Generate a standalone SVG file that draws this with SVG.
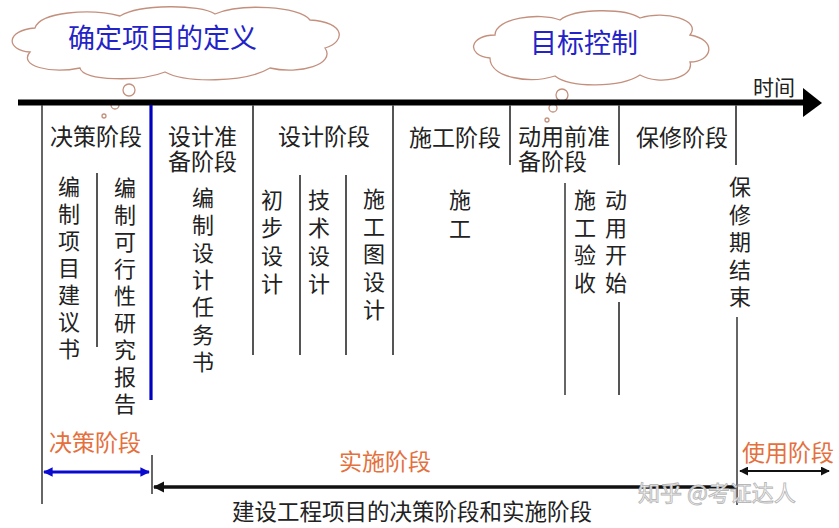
<svg xmlns="http://www.w3.org/2000/svg" width="839" height="528" viewBox="0 0 839 528">
<defs>
<style>
text{font-family:"Noto Sans CJK SC","Microsoft YaHei",sans-serif;fill:#222}
.h{font-size:23px}
.v{font-size:22px;text-anchor:middle}
.cl{font-size:27px;fill:#2323C8}
.or{font-size:23px;fill:#E4703E}
.div{stroke:#555;stroke-width:2;fill:none}
.thin{stroke:#333;stroke-width:1.5;fill:none}
.cloud{fill:#fff;stroke:#C4907E;stroke-width:1.3}
</style>
<marker id="ab" viewBox="0 0 10 10" refX="9" refY="5" markerWidth="3.2" markerHeight="3.6" orient="auto-start-reverse" markerUnits="strokeWidth"><path d="M0,0 L10,5 L0,10 Z" fill="#0A0AD0"/></marker>
<marker id="ak" viewBox="0 0 10 10" refX="9" refY="5" markerWidth="3.2" markerHeight="3.4" orient="auto-start-reverse" markerUnits="strokeWidth"><path d="M0,0 L10,5 L0,10 Z" fill="#111"/></marker>
<marker id="as" viewBox="0 0 10 10" refX="9" refY="5" markerWidth="5" markerHeight="5" orient="auto-start-reverse" markerUnits="strokeWidth"><path d="M0,0 L10,5 L0,10 Z" fill="#111"/></marker>
</defs>
<rect width="839" height="528" fill="#fff"/>

<g id="cloud-definition">
<path class="cloud" d="M30,52 C5,50 6,30 35,28 C40,12 90,8 120,16 C140,4 200,4 215,14 C240,3 300,6 310,20 C346,22 346,42 325,48 C336,64 300,75 270,68 C245,83 185,83 165,72 C140,82 82,81 80,68 C50,74 18,66 30,52 Z"/>
<circle class="cloud" cx="129" cy="90" r="6"/>
<circle class="cloud" cx="115" cy="105" r="4"/>
<circle class="cloud" cx="104" cy="116" r="2"/>
<text class="cl" x="68" y="48">确定项目的定义</text>
</g>

<g id="cloud-control">
<path class="cloud" d="M490,58 C465,55 470,35 495,35 C495,18 540,12 560,20 C575,8 625,8 640,18 C665,10 702,20 690,35 C718,40 712,62 690,62 C695,78 660,86 640,75 C620,88 570,88 555,76 C530,84 490,78 490,58 Z"/>
<circle class="cloud" cx="562" cy="95" r="6"/>
<circle class="cloud" cx="553" cy="108" r="4"/>
<circle class="cloud" cx="547" cy="120" r="2"/>
<text class="cl" x="530" y="53">目标控制</text>
</g>

<g id="time-axis">
<line x1="18" y1="102.5" x2="806" y2="102.5" stroke="#000" stroke-width="6"/>
<polygon points="803,88 822,103 803,117" fill="#000"/>
<text x="753" y="95" style="font-size:21px">时间</text>
</g>

<g id="dividers">
<line class="thin" x1="42" y1="105" x2="42" y2="504"/>
<line x1="151" y1="105" x2="151" y2="400" stroke="#0000C0" stroke-width="3.2"/>
<line class="div" x1="253" y1="105" x2="253" y2="355"/>
<line class="div" x1="393" y1="105" x2="393" y2="355"/>
<line class="div" x1="510" y1="105" x2="510" y2="165"/>
<line class="div" x1="619" y1="105" x2="619" y2="165"/>
<line class="div" x1="736" y1="105" x2="736" y2="165"/>
<line class="div" x1="97" y1="173" x2="97" y2="347"/>
<line class="div" x1="300" y1="175" x2="300" y2="355"/>
<line class="div" x1="346" y1="175" x2="346" y2="355"/>
<line class="thin" x1="565" y1="183" x2="565" y2="395"/>
<line class="div" x1="619" y1="302" x2="619" y2="395"/>
<line class="thin" x1="737" y1="317" x2="737" y2="505"/>
<line class="thin" x1="152" y1="455" x2="152" y2="494"/>
</g>

<g id="stage-decision">
<text class="h" x="50" y="145">决策阶段</text>
<text class="v" x="69" y="195"><tspan x="69">编</tspan><tspan x="69" dy="27">制</tspan><tspan x="69" dy="27">项</tspan><tspan x="69" dy="27">目</tspan><tspan x="69" dy="27">建</tspan><tspan x="69" dy="27">议</tspan><tspan x="69" dy="27">书</tspan></text>
<text class="v" x="125" y="196"><tspan x="125">编</tspan><tspan x="125" dy="27">制</tspan><tspan x="125" dy="27">可</tspan><tspan x="125" dy="27">行</tspan><tspan x="125" dy="27">性</tspan><tspan x="125" dy="27">研</tspan><tspan x="125" dy="27">究</tspan><tspan x="125" dy="27">报</tspan><tspan x="125" dy="27">告</tspan></text>
</g>

<g id="stage-design-prep">
<text class="h" x="168" y="145">设计准</text>
<text class="h" x="168" y="170">备阶段</text>
<text class="v" x="203" y="206"><tspan x="203">编</tspan><tspan x="203" dy="27.3">制</tspan><tspan x="203" dy="27.3">设</tspan><tspan x="203" dy="27.3">计</tspan><tspan x="203" dy="27.3">任</tspan><tspan x="203" dy="27.3">务</tspan><tspan x="203" dy="27.3">书</tspan></text>
</g>

<g id="stage-design">
<text class="h" x="278" y="145">设计阶段</text>
<text class="v" x="272" y="208"><tspan x="272">初</tspan><tspan x="272" dy="28">步</tspan><tspan x="272" dy="28">设</tspan><tspan x="272" dy="28">计</tspan></text>
<text class="v" x="319" y="208"><tspan x="319">技</tspan><tspan x="319" dy="28">术</tspan><tspan x="319" dy="28">设</tspan><tspan x="319" dy="28">计</tspan></text>
<text class="v" x="374" y="207"><tspan x="374">施</tspan><tspan x="374" dy="27.7">工</tspan><tspan x="374" dy="27.7">图</tspan><tspan x="374" dy="27.7">设</tspan><tspan x="374" dy="27.7">计</tspan></text>
</g>

<g id="stage-construction">
<text class="h" x="409" y="146">施工阶段</text>
<text class="v" x="460" y="208"><tspan x="460">施</tspan><tspan x="460" dy="29">工</tspan></text>
</g>

<g id="stage-pre-operation">
<text class="h" x="518" y="145">动用前准</text>
<text class="h" x="518" y="170">备阶段</text>
<text class="v" x="585" y="208"><tspan x="585">施</tspan><tspan x="585" dy="27.7">工</tspan><tspan x="585" dy="27.7">验</tspan><tspan x="585" dy="27.7">收</tspan></text>
<text class="v" x="616" y="208"><tspan x="616">动</tspan><tspan x="616" dy="27.7">用</tspan><tspan x="616" dy="27.7">开</tspan><tspan x="616" dy="27.7">始</tspan></text>
</g>

<g id="stage-warranty">
<text class="h" x="636" y="146">保修阶段</text>
<text class="v" x="740" y="195"><tspan x="740">保</tspan><tspan x="740" dy="27.5">修</tspan><tspan x="740" dy="27.5">期</tspan><tspan x="740" dy="27.5">结</tspan><tspan x="740" dy="27.5">束</tspan></text>
</g>

<g id="connectors">
<line x1="44" y1="472" x2="149" y2="472" stroke="#0A0AD0" stroke-width="3" marker-start="url(#ab)" marker-end="url(#ab)"/>
<line x1="154" y1="487" x2="736" y2="487" stroke="#111" stroke-width="3.5" marker-start="url(#ak)"/>
<line x1="740" y1="471" x2="829" y2="471" stroke="#111" stroke-width="1.8" marker-start="url(#as)" marker-end="url(#as)"/>
</g>

<g id="phase-labels">
<text class="or" x="49" y="451">决策阶段</text>
<text class="or" x="339" y="470">实施阶段</text>
<text class="or" x="742" y="461">使用阶段</text>
</g>

<g id="caption">
<text x="232" y="520" style="font-size:22.5px">建设工程项目的决策阶段和实施阶段</text>
</g>

<g id="watermark">
<text x="638" y="501" style="font-size:22px;fill:#fff;stroke:#b8b8b8;stroke-width:0.9">知乎 @考证达人</text>
</g>
</svg>
